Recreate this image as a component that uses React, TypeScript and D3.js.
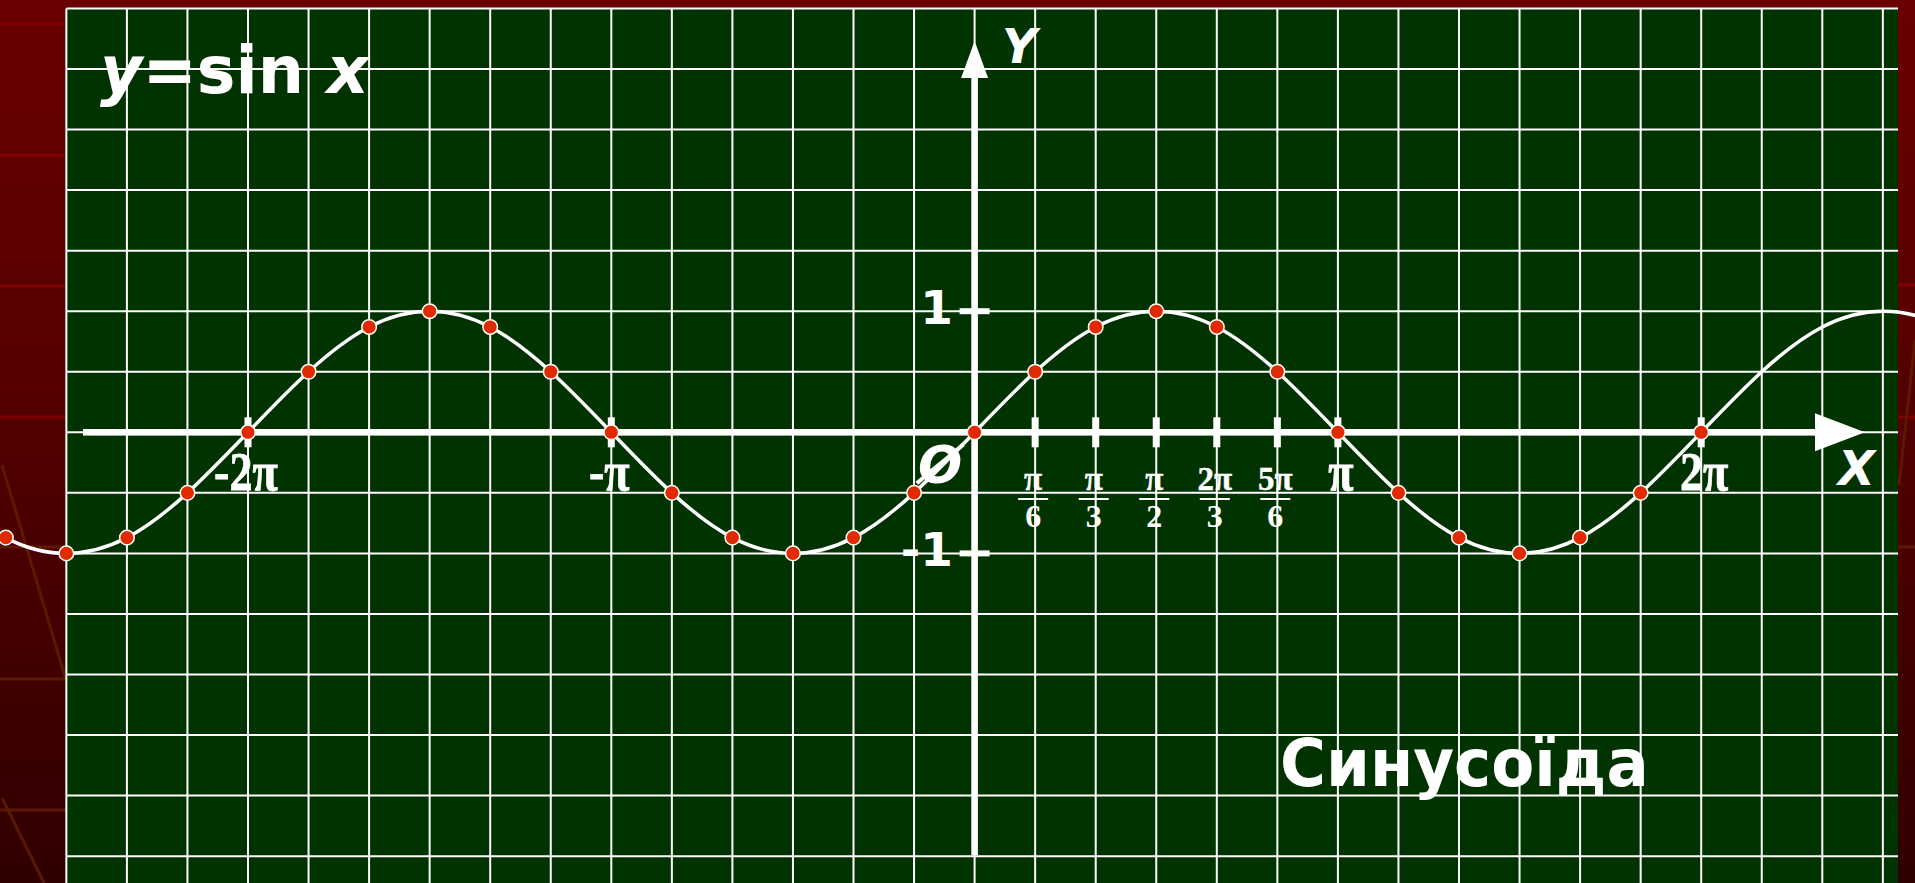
import React from "react";
import * as d3 from "d3";

// x positions are given in steps of π/6
const curveSteps = [-17, -16, -15, -14, -13, -12, -11, -10, -9, -8, -7, -6, -5, -4, -3, -2, -1, 0, 1, 2, 3, 4, 5, 6, 7, 8, 9, 10, 11, 12, 13, 14, 15, 16, 17];
const curveValues = [-0.5, -0.87, -1, -0.87, -0.5, 0, 0.5, 0.87, 1, 0.87, 0.5, 0, -0.5, -0.87, -1, -0.87, -0.5, 0, 0.5, 0.87, 1, 0.87, 0.5, 0, -0.5, -0.87, -1, -0.87, -0.5, 0, 0.5, 0.87, 1, 0.87, 0.5];
const dotSteps = [-16, -15, -14, -13, -12, -11, -10, -9, -8, -7, -6, -5, -4, -3, -2, -1, 0, 1, 2, 3, 4, 5, 6, 7, 8, 9, 10, 11, 12];
const dotValues = [-0.87, -1, -0.87, -0.5, 0, 0.5, 0.87, 1, 0.87, 0.5, 0, -0.5, -0.87, -1, -0.87, -0.5, 0, 0.5, 0.87, 1, 0.87, 0.5, 0, -0.5, -0.87, -1, -0.87, -0.5, 0];
const mainTickSteps = [-12, -6, 6, 12];
const mainTickLabels = ["-2π", "-π", "π", "2π"];
const fracTickSteps = [1, 2, 3, 4, 5];
const fracNumerators = ["π", "π", "π", "2π", "5π"];
const fracDenominators = ["6", "3", "2", "3", "6"];
const yTickValues = [1, -1];
const yTickLabels = ["1", "-1"];
const gridStepsX = d3.range(-15, 16);
const gridValuesY = d3.range(-3.5, 4.01, 0.5);

const W = 1915;
const H = 883;

export default function App() {
  const x = d3.scaleLinear().domain([0, 1]).range([974.6, 1035.15]);
  const y = d3.scaleLinear().domain([0, 1]).range([432.3, 311.2]);
  const panelL = x(-15);
  const panelR = 1898;
  const panelT = y(3.5);

  const line = d3
    .line<number>()
    .x((_, i) => x(curveSteps[i]))
    .y((d) => y(d))
    .curve(d3.curveNatural);

  const sans = "'DejaVu Sans', Verdana, sans-serif";
  const serif = "'Liberation Serif', 'Times New Roman', serif";
  const x0 = x(0);
  const y0 = y(0);

  return (
    <div style={{ position: "fixed", left: 0, top: 0, width: W, height: H, overflow: "hidden" }}>
      <svg width={W} height={H} style={{ display: "block" }}>
        <defs>
          <linearGradient id="bg" x1="0" y1="0" x2="0" y2="1">
            <stop offset="0" stopColor="#6a0000" />
            <stop offset="0.5" stopColor="#520000" />
            <stop offset="1" stopColor="#300000" />
          </linearGradient>
        </defs>
        <rect x={0} y={0} width={W} height={H} fill="url(#bg)" />
        {/* decorative background lines */}
        <g stroke="#8a0000" strokeWidth={3} opacity={0.8}>
          <line x1={0} y1={24} x2={67} y2={24} />
          <line x1={0} y1={155} x2={67} y2={155} />
          <line x1={0} y1={286} x2={67} y2={286} />
          <line x1={0} y1={417} x2={67} y2={417} />
          <line x1={1898} y1={285} x2={W} y2={285} />
          <line x1={1898} y1={417} x2={W} y2={417} />
        </g>
        <g stroke="#5e1c00" strokeWidth={3} opacity={0.9}>
          <line x1={0} y1={547} x2={67} y2={547} />
          <line x1={0} y1={679} x2={67} y2={679} />
          <line x1={0} y1={810} x2={67} y2={810} />
          <line x1={1898} y1={547} x2={W} y2={547} />
          <line x1={2} y1={465} x2={66} y2={680} />
          <line x1={2} y1={798} x2={44} y2={883} />
          <line x1={1915} y1={340} x2={1899} y2={485} />
        </g>
        {/* green board */}
        <rect x={panelL} y={panelT} width={panelR - panelL} height={H} fill="#003300" />
        <g stroke="#ffffff" strokeWidth={2}>
          {gridStepsX.map((k) => (
            <line key={"gx" + k} x1={x(k)} x2={x(k)} y1={panelT} y2={H} />
          ))}
          {gridValuesY.map((v) => (
            <line key={"gy" + v} x1={panelL} x2={panelR} y1={y(v)} y2={y(v)} />
          ))}
        </g>
        {/* axes */}
        <g fill="#ffffff">
          <rect x={83} y={y0 - 3.3} width={1817 - 83} height={6.6} />
          <path d={`M1815,${y0 - 19} L1865,${y0} L1815,${y0 + 19} Z`} />
          <rect x={x0 - 3.3} y={76} width={6.6} height={855 - 76} />
          <path d={`M${x0 - 13.5},78 L${x0},41 L${x0 + 13.5},78 Z`} />
          {[...mainTickSteps, ...fracTickSteps].map((k) => (
            <rect key={"t" + k} x={x(k) - 3.5} y={y0 - 15} width={7} height={30} />
          ))}
          {yTickValues.map((v) => (
            <rect key={"yt" + v} x={x0 - 15} y={y(v) - 3} width={30} height={6} />
          ))}
        </g>
        {/* labels */}
        <g fill="#ffffff">
          {yTickValues.map((v, i) => (
            <text key={"yl" + v} x={953} y={y(v) + 12.5} textAnchor="end" fontFamily={sans} fontWeight="bold" fontSize={47}>
              {yTickLabels[i]}
            </text>
          ))}
          {mainTickSteps.map((k, i) => (
            <text
              key={"ml" + k}
              transform={`translate(${x(k) + (k > 0 ? 3 : -2)},490) scale(0.84,1)`}
              textAnchor="middle"
              fontFamily={serif}
              fontWeight="bold"
              fontSize={55}
              stroke="#ffffff"
              strokeWidth={0.8}
            >
              {mainTickLabels[i]}
            </text>
          ))}
          {fracTickSteps.map((k, i) => (
            <g key={"fl" + k} transform={`translate(${x(k) - 2},0)`}>
              <text x={0} y={490} textAnchor="middle" fontFamily={serif} fontWeight="bold" fontSize={33} stroke="#ffffff" strokeWidth={0.4}>
                {fracNumerators[i]}
              </text>
              <rect x={-15} y={498} width={30} height={2} />
              <text x={0} y={527} textAnchor="middle" fontFamily={serif} fontWeight="bold" fontSize={32}>
                {fracDenominators[i]}
              </text>
            </g>
          ))}
          <text x={918} y={483} fontFamily={sans} fontWeight="bold" fontStyle="italic" fontSize={52}>
            Ø
          </text>
          <text x={1002} y={63} fontFamily={sans} fontWeight="bold" fontStyle="italic" fontSize={48}>
            Y
          </text>
          <text x={1838} y={485} fontFamily={sans} fontWeight="bold" fontStyle="italic" fontSize={48}>
            X
          </text>
          <text x={100} y={93} fontFamily={sans} fontWeight="bold" fontSize={65}>
            <tspan fontStyle="italic">y</tspan>
            <tspan>=sin </tspan>
            <tspan fontStyle="italic">x</tspan>
          </text>
          <text transform="translate(1280,786) scale(0.95,1)" fontFamily={sans} fontWeight="bold" fontSize={66}>
            Синусоїда
          </text>
        </g>
        {/* sine curve and points */}
        <path d={line(curveValues) || ""} fill="none" stroke="#ffffff" strokeWidth={3.5} />
        {dotSteps.map((k, i) => (
          <circle key={"d" + k} cx={x(k)} cy={y(dotValues[i])} r={7.3} fill="#e02a00" stroke="#ffffff" strokeWidth={1.5} />
        ))}
      </svg>
    </div>
  );
}
